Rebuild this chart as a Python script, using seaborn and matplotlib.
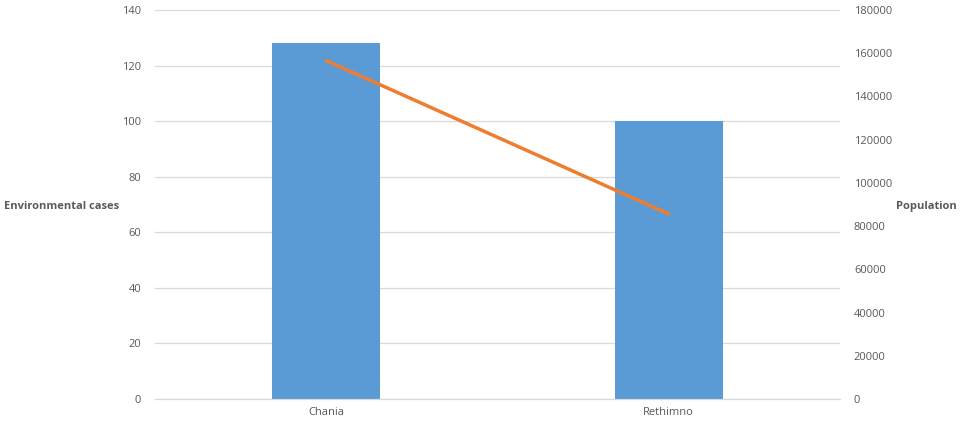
import matplotlib
matplotlib.use("Agg")
import matplotlib.pyplot as plt
import seaborn as sns
import pandas as pd

categories = ["Chania", "Rethimno"]
environmental_cases = [128, 100]
population = [156585, 85609]

sns.set_theme(style="white")
plt.rcParams['font.family'] = ['Open Sans', 'DejaVu Sans']

df = pd.DataFrame({"region": categories, "cases": environmental_cases, "population": population})

fig = plt.figure(figsize=(9.67, 4.22), dpi=100)
ax = fig.add_axes([155/967, 23/422, 685/967, 389/422])

sns.barplot(data=df, x="region", y="cases", color="#5B9BD5", saturation=1, width=0.315,
            edgecolor="none", linewidth=0, ax=ax, zorder=2)
ax.set_ylim(0, 140)
ax.set_yticks(range(0, 141, 20))
ax.set_xlim(-0.5, 1.5)
ax.grid(axis="y", color="#D9D9D9", linewidth=0.9, zorder=0)
ax.set_axisbelow(True)
for s in ["top", "right", "left"]:
    ax.spines[s].set_visible(False)
ax.spines["bottom"].set_color("#D9D9D9")
ax.spines["bottom"].set_linewidth(0.9)
ax.tick_params(axis="both", length=0, labelsize=8, labelcolor="#595959", pad=10)
ax.tick_params(axis="x", pad=6)
ax.set_xlabel("")
ax.set_ylabel("Environmental cases", rotation=0, fontsize=8, fontweight="bold",
              color="#595959", ha="center", va="center")
ax.yaxis.set_label_coords(-0.136, 0.496)

ax2 = ax.twinx()
sns.lineplot(data=df, x="region", y="population", color="#ED7D31", linewidth=2.5, ax=ax2, sort=False)
ax2.set_ylim(0, 180000)
ax2.set_yticks(range(0, 180001, 20000))
for s in ["top", "right", "left", "bottom"]:
    ax2.spines[s].set_visible(False)
ax2.tick_params(axis="y", length=0, labelsize=8, labelcolor="#595959", pad=10)
ax2.set_ylabel("Population", rotation=0, fontsize=8, fontweight="bold",
               color="#595959", ha="center", va="center")
ax2.yaxis.set_label_coords(1.1255, 0.496)
ax2.grid(False)

fig.savefig("out.png", dpi=100)
